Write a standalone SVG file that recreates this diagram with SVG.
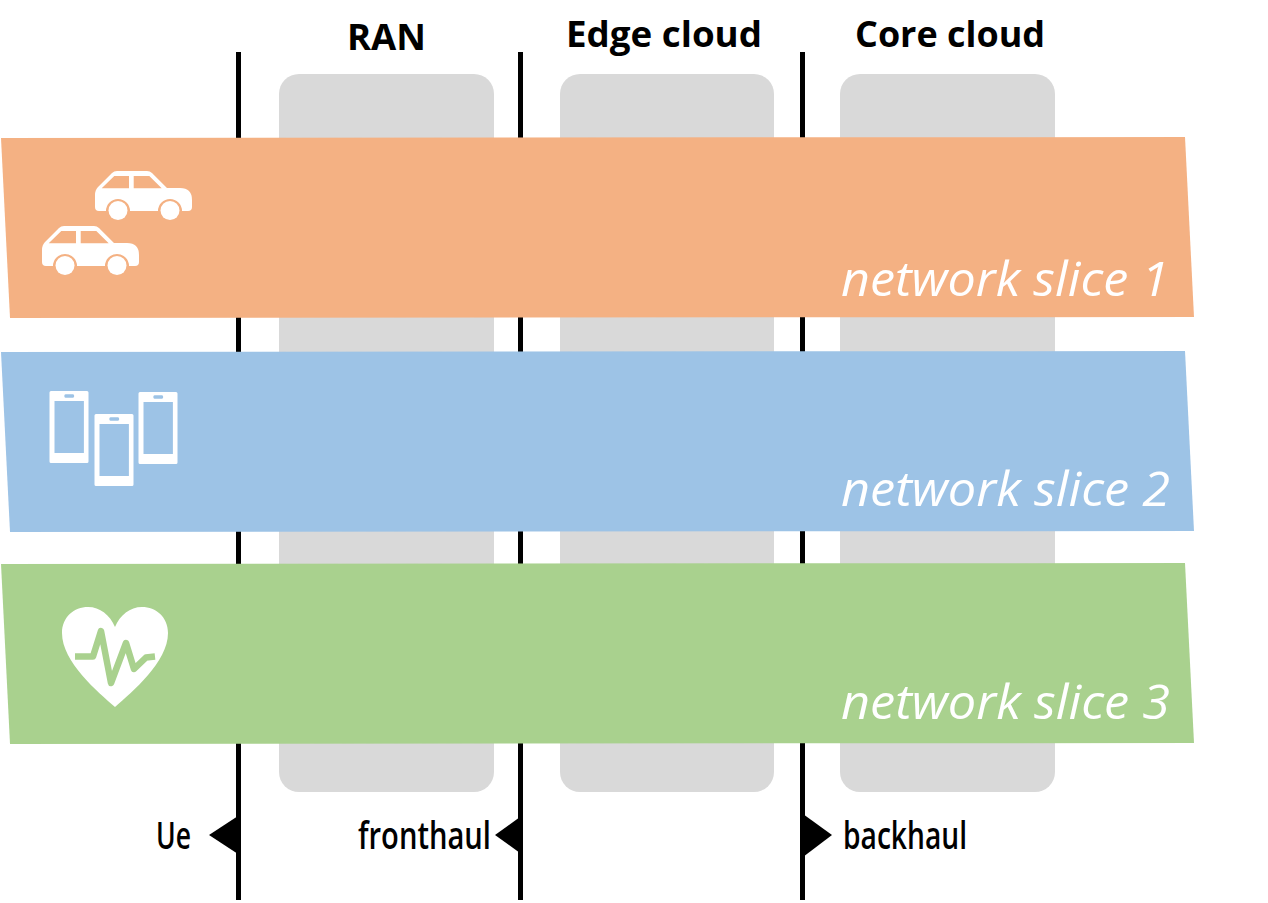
<svg xmlns="http://www.w3.org/2000/svg" xmlns:xlink="http://www.w3.org/1999/xlink" width="1268" height="903" viewBox="0 0 1268 903">
<style>
.col{fill:#d9d9d9}
.div{stroke:#000;stroke-width:5;fill:none}
.tri{fill:#000}
.head{font-family:"Open Sans","Liberation Sans",sans-serif;font-weight:700;font-size:36px;fill:#000}
.lab{font-family:"Open Sans","Liberation Sans",sans-serif;font-weight:600;font-size:37px;fill:#000}
.sl{font-family:"Open Sans","Liberation Sans",sans-serif;font-style:italic;font-weight:400;font-size:47px;fill:#fff}
.w{fill:#fff}
</style>
<defs>
<g id="car">
<path class="w" fill-rule="evenodd" d="M95,195Q95,190 98,187L112,173Q114,171 117,171H147Q150,171 152,173L167,188H180Q192,188 192,200V207Q192,211 188,211H182A12,12 0 0 0 158,211H130A12,12 0 0 0 106,211H99Q95,211 95,207ZM101.700,188.300H129V176H114.300ZM133.700,176V188.300H161.700L149.300,176Z"/>
<circle class="w" cx="118" cy="210.500" r="9.500"/>
<circle class="w" cx="170" cy="210.500" r="9.500"/>
</g>
<g id="phone">
<path class="w" fill-rule="evenodd" d="M1.500,0H37.500Q39,0 39,1.500V70.500Q39,72 37.500,72H1.500Q0,72 0,70.500V1.500Q0,0 1.500,0ZM5,10V62H34.400V10ZM16,3.200Q14.800,3.200 14.800,5Q14.800,6.800 16,6.800H23.500Q24.700,6.800 24.700,5Q24.700,3.200 23.500,3.200Z"/>
</g>
</defs>
<g id="columns">
<g id="col-ran"><rect class="col" x="279" y="74" width="215" height="718" rx="20"/></g>
<g id="col-edge"><rect class="col" x="560" y="74" width="214" height="718" rx="20"/></g>
<g id="col-core"><rect class="col" x="840" y="74" width="215" height="718" rx="20"/></g>
</g>
<g id="connectors">
<line class="div" x1="238.500" y1="52" x2="238.500" y2="900"/>
<line class="div" x1="520.500" y1="52" x2="520.500" y2="900"/>
<line class="div" x1="802.500" y1="52" x2="802.500" y2="900"/>
<polygon class="tri" points="238,816 238,854 209,835"/>
<polygon class="tri" points="520,817 520,853 495,835"/>
<polygon class="tri" points="803,814 803,857 832,835"/>
</g>
<g id="slice1">
<polygon fill="#f4b183" points="1,138 1185,137 1194,317 10,318"/>
<use xlink:href="#car" href="#car"/>
<use xlink:href="#car" href="#car" transform="translate(-53,55)"/>
<text class="sl" x="841" y="296" textLength="328" lengthAdjust="spacingAndGlyphs">network slice 1</text>
</g>
<g id="slice2">
<polygon fill="#9dc3e6" points="1,352 1185,351 1194,531 10,532"/>
<use xlink:href="#phone" href="#phone" transform="translate(49.500,391)"/>
<use xlink:href="#phone" href="#phone" transform="translate(94.500,414)"/>
<use xlink:href="#phone" href="#phone" transform="translate(138.500,392)"/>
<text class="sl" x="841" y="506" textLength="329" lengthAdjust="spacingAndGlyphs">network slice 2</text>
</g>
<g id="slice3">
<polygon fill="#a9d18e" points="1,564 1185,563 1194,743 10,744"/>
<path class="w" d="M115,707C98,692 62,662 62,633C62,617 74,607 88,607C100,607 110,615 115,627C120,615 130,607 142,607C156,607 168,617 168,633C168,662 132,692 115,707Z"/>
<polyline fill="none" stroke="#a9d18e" stroke-width="6.500" stroke-linecap="butt" stroke-linejoin="round" points="75,656.500 93,656.500 101,631 111,683 126,643 134,669 146,657.500 155,656.500"/>
<text class="sl" x="841" y="719" textLength="329" lengthAdjust="spacingAndGlyphs">network slice 3</text>
</g>
<g id="headers">
<text class="head" x="347" y="50" textLength="79" lengthAdjust="spacingAndGlyphs">RAN</text>
<text class="head" x="566" y="47" textLength="196" lengthAdjust="spacingAndGlyphs">Edge cloud</text>
<text class="head" x="855" y="47" textLength="190" lengthAdjust="spacingAndGlyphs">Core cloud</text>
</g>
<g id="labels">
<text class="lab" x="156" y="849" textLength="35" lengthAdjust="spacingAndGlyphs">Ue</text>
<text class="lab" x="358" y="849" textLength="133" lengthAdjust="spacingAndGlyphs">fronthaul</text>
<text class="lab" x="843" y="849" textLength="124" lengthAdjust="spacingAndGlyphs">backhaul</text>
</g>
</svg>
